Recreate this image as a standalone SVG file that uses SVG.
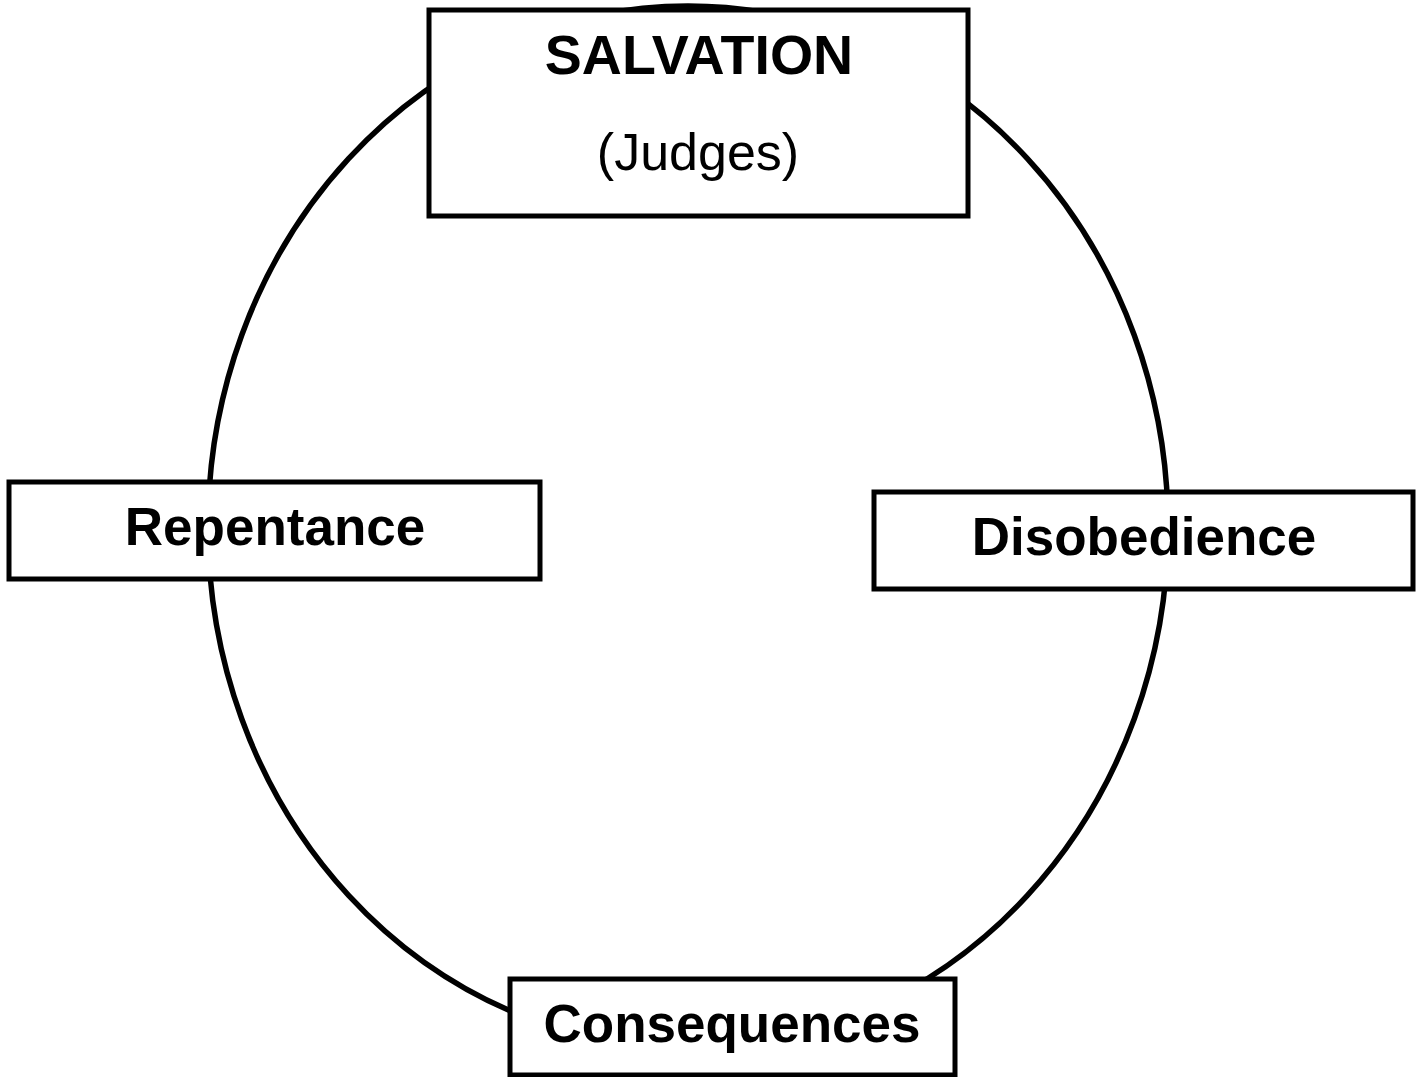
<svg xmlns="http://www.w3.org/2000/svg" width="1416" height="1077" viewBox="0 0 1416 1077">
<style>
.box{fill:#fff;stroke:#000;stroke-width:5}
.conn{fill:none;stroke:#000;stroke-width:5.5}
.b{font-family:"Liberation Sans",Arial,sans-serif;font-weight:bold;font-size:53px;text-anchor:middle;fill:#000}
.r{font-family:"Liberation Sans",Arial,sans-serif;font-size:52px;text-anchor:middle;fill:#000}
</style>
<rect width="1416" height="1077" fill="#fff"/>
<g id="connectors">
<ellipse class="conn" cx="688" cy="527" rx="480" ry="521"/>
</g>
<g id="salvation">
<rect class="box" x="429" y="10" width="539" height="206"/>
<text class="b" x="699" y="74" style="font-size:55.5px">SALVATION</text>
<text class="r" x="698" y="170">(Judges)</text>
</g>
<g id="repentance">
<rect class="box" x="9" y="482" width="531" height="97"/>
<text class="b" x="275" y="545">Repentance</text>
</g>
<g id="disobedience">
<rect class="box" x="874" y="492" width="539" height="97"/>
<text class="b" x="1144" y="555">Disobedience</text>
</g>
<g id="consequences">
<rect class="box" x="510" y="979" width="445" height="96"/>
<text class="b" x="732" y="1042">Consequences</text>
</g>
</svg>
